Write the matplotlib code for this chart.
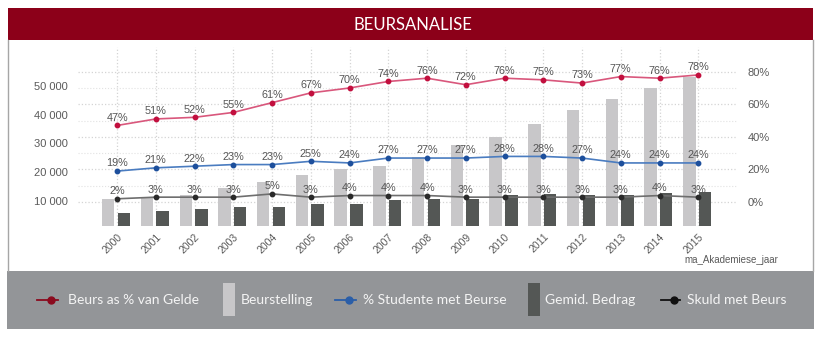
import matplotlib
matplotlib.use('Agg')
import matplotlib.pyplot as plt
from matplotlib.lines import Line2D
from matplotlib.patches import Rectangle
from matplotlib.ticker import FuncFormatter

W, H = 825, 342

# data
years = list(range(2000, 2016))
beurstelling = [10700, 11500, 12100, 14600, 16700, 18900, 21100, 22000,
                25400, 29500, 32400, 36800, 41800, 45400, 49200, 53200]
gemid_bedrag = [5700, 6400, 7200, 7900, 7900, 9000, 9000, 10200,
                10800, 10700, 12000, 12300, 12100, 12100, 12700, 13000]
beurs_pct_gelde = [47, 51, 52, 55, 61, 67, 70, 74, 76, 72, 76, 75, 73, 77, 76, 78]
studente_pct = [19, 21, 22, 23, 23, 25, 24, 27, 27, 27, 28, 28, 27, 24, 24, 24]
skuld_pct = [2, 3, 3, 3, 5, 3, 4, 4, 4, 3, 3, 3, 3, 3, 4, 3]

money_ticks = [10000, 20000, 30000, 40000, 50000]
pct_ticks = [0, 20, 40, 60, 80]
pct_minor = [10, 30, 50, 70]

TICK_FONT = 'Liberation Sans'
LEG_FONT = 'Lato'
GREY_TXT = '#5a5a5a'


def px(x, y):
    # pixel position -> figure fraction
    return x / W, 1 - y / H


fig = plt.figure(figsize=(W / 100, H / 100), dpi=100)
fig.patch.set_facecolor('white')

# title bar
fig.add_artist(Rectangle(px(8, 40), 805 / W, 32 / H, transform=fig.transFigure,
                         facecolor='#8c0019', edgecolor='none'))
fig.text(*px(413, 24.5), 'BEURSANALISE', color='white', fontsize=12,
         family=LEG_FONT, ha='center', va='center')

# panel border
for xx in (7.5, 813):
    fig.add_artist(Line2D([xx / W, xx / W], [1 - 40 / H, 1 - 271 / H],
                          transform=fig.transFigure, color='#a6a6a6', lw=1))

# legend band
fig.add_artist(Rectangle(px(7, 329), 807 / W, 58 / H, transform=fig.transFigure,
                         facecolor='#939598', edgecolor='none'))

# axes
left, right, top, bottom = 78, 737, 47, 226
rect = [left / W, 1 - bottom / H, (right - left) / W, (bottom - top) / H]
ax_g = fig.add_axes(rect)
ax_b = ax_g.twinx()
ax_l = ax_g.twinx()

xlim = (1998.99, 2016.0)
pct_lim = (-14.7, 95.15)
money_lim = (1300, 63565)

for a in (ax_g, ax_b, ax_l):
    a.patch.set_visible(False)
    for s in a.spines.values():
        s.set_visible(False)
    a.tick_params(length=0)

# grid (percent axis)
ax_g.set_xlim(*xlim)
ax_g.set_ylim(*pct_lim)
ax_g.set_yticks(pct_ticks)
ax_g.set_yticks(pct_minor, minor=True)
ax_g.set_xticks(years)
ax_g.yaxis.tick_right()
ax_g.grid(True, which='major', axis='both', color='#d4d4d4', ls=':', lw=0.9)
ax_g.grid(True, which='minor', axis='y', color='#e2e2e2', ls=':', lw=0.8)
ax_g.yaxis.set_major_formatter(FuncFormatter(lambda v, p: '%d%%' % v))
ax_g.tick_params(axis='y', which='both', length=0, pad=7.5, labelsize=8,
                 labelcolor=GREY_TXT)
for t in ax_g.get_yticklabels():
    t.set_family(TICK_FONT)
ax_g.set_xticklabels([str(y) for y in years], rotation=45, ha='right',
                     va='top', rotation_mode='anchor', fontsize=7.5,
                     color=GREY_TXT, family=TICK_FONT)
ax_g.tick_params(axis='x', length=0, pad=4)

# bars (money axis, left)
ax_b.set_ylim(*money_lim)
ax_b.yaxis.tick_left()
ax_b.set_yticks(money_ticks)
ax_b.yaxis.set_major_formatter(FuncFormatter(lambda v, p: '{:,.0f}'.format(v).replace(',', ' ')))
ax_b.tick_params(axis='y', length=0, pad=7.5, labelsize=8, labelcolor=GREY_TXT)
for t in ax_b.get_yticklabels():
    t.set_family(TICK_FONT)
ax_b.bar([y - 0.23 for y in years], beurstelling, width=0.32, bottom=0,
         color='#c8c7c9', zorder=2)
ax_b.bar([y + 0.175 for y in years], gemid_bedrag, width=0.32, bottom=0,
         color='#545755', zorder=2)

# lines (percent axis)
ax_l.set_ylim(*pct_lim)
ax_l.set_yticks([])
series = [
    (beurs_pct_gelde, '#d9577c', '#c20f3e'),
    (studente_pct, '#4a7cc0', '#1d4f9c'),
    (skuld_pct, '#6e6e6e', '#2a2a2a'),
]
for vals, lc, mc in series:
    ax_l.plot(years, vals, color=lc, lw=1.2, zorder=3)
    ax_l.plot(years, vals, ls='none', marker='o', ms=3.2, color=mc, zorder=4)
    for yr, v in zip(years, vals):
        ax_l.annotate('%d%%' % v, (yr, v), xytext=(0, 5.5),
                      textcoords='offset points', ha='center', va='center',
                      fontsize=7.8, color='#555555', family=TICK_FONT, zorder=5)
ax_g.set_xlim(*xlim)

fig.text(*px(778, 260), 'ma_Akademiese_jaar', ha='right', va='center',
         fontsize=7, color=GREY_TXT, family=TICK_FONT)

# legend
ly = 300
legend_items = [
    ('line', 37, 58, '#8b0a1e', 68, 'Beurs as % van Gelde'),
    ('bar', 223, 235, '#c8c7c9', 241, 'Beurstelling'),
    ('line', 335, 356, '#2a5ea8', 363, '% Studente met Beurse'),
    ('bar', 528, 540, '#545755', 545, 'Gemid. Bedrag'),
    ('line', 661, 680, '#111111', 687, 'Skuld met Beurs'),
]
for kind, x0, x1, col, tx, label in legend_items:
    if kind == 'line':
        fig.add_artist(Line2D([x0 / W, x1 / W], [1 - ly / H, 1 - ly / H],
                              transform=fig.transFigure, color=col, lw=1.3))
        fig.add_artist(Line2D([(x0 + x1) / 2 / W + 3 / W], [1 - ly / H],
                              transform=fig.transFigure, color=col,
                              marker='o', ms=5))
    else:
        fig.add_artist(Rectangle(px(x0, 316), (x1 - x0) / W, 33 / H,
                                 transform=fig.transFigure, facecolor=col,
                                 edgecolor='none'))
    fig.text(*px(tx, ly + 0.5), label, ha='left', va='center', fontsize=10,
             color='#f4f4f4', family=LEG_FONT)

fig.savefig('out.png', dpi=100)
